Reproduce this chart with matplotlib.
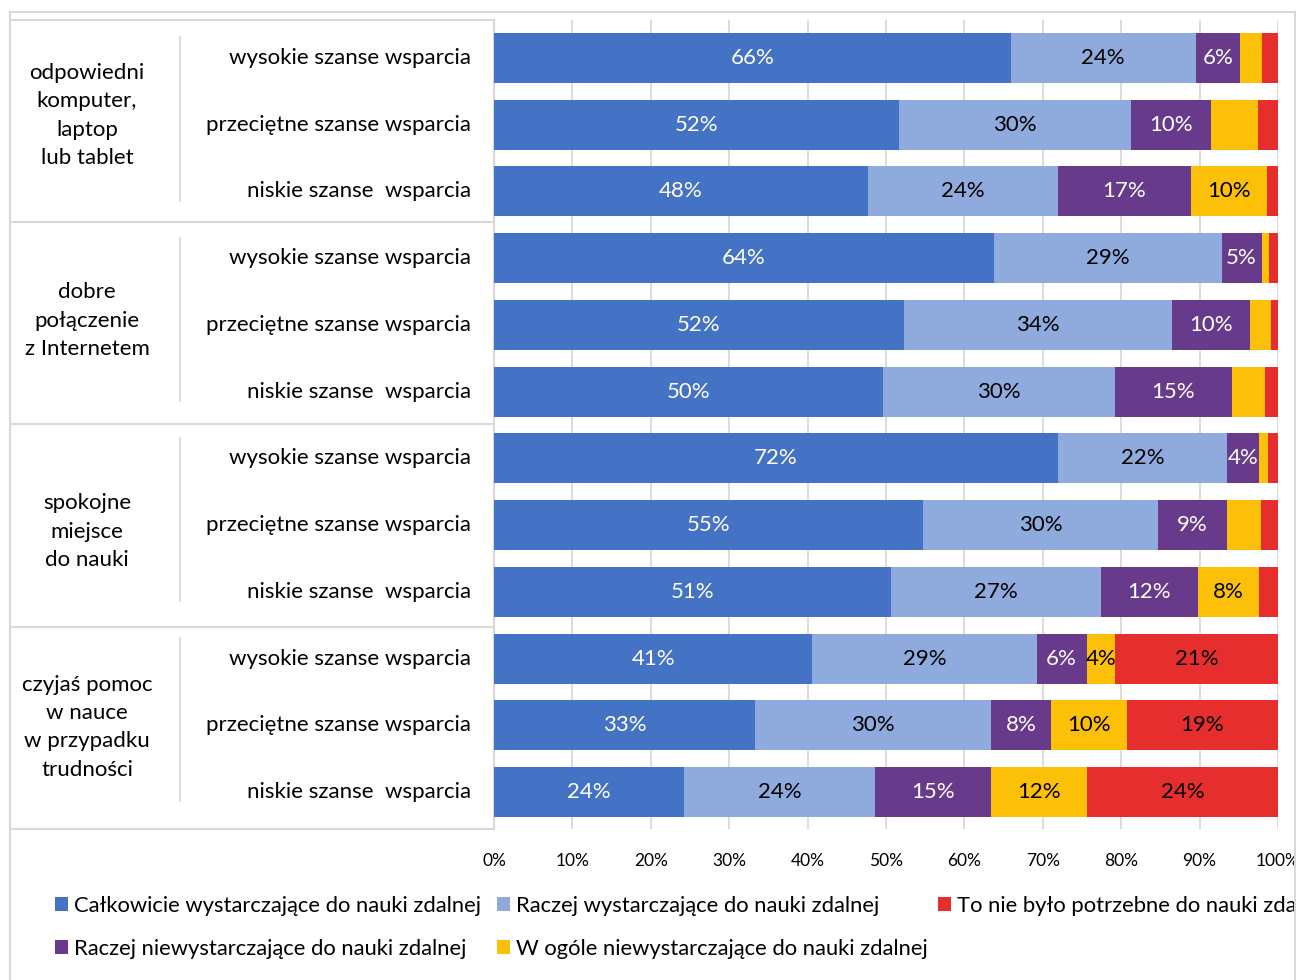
import matplotlib
matplotlib.use("Agg")
import matplotlib.pyplot as plt
from matplotlib.patches import Rectangle
from matplotlib.transforms import Bbox, TransformedBbox, blended_transform_factory
import numpy as np

plt.rcParams['font.family'] = ['Lato', 'DejaVu Sans']

# ---------------- data ----------------
groups = ["odpowiedni\nkomputer,\nlaptop\nlub tablet",
          "dobre\npołączenie\nz Internetem",
          "spokojne\nmiejsce\ndo nauki",
          "czyjaś pomoc\nw nauce\nw przypadku\ntrudności"]
levels = ["wysokie szanse wsparcia", "przeciętne szanse wsparcia", "niskie szanse  wsparcia"]
categories = [lv for g in groups for lv in levels]

series_names = ["Całkowicie wystarczające do nauki zdalnej",
                "Raczej wystarczające do nauki zdalnej",
                "Raczej niewystarczające do nauki zdalnej",
                "W ogóle niewystarczające do nauki zdalnej",
                "To nie było potrzebne do nauki zdalnej"]

calkowicie = [65.9, 51.6, 47.7, 63.8, 52.3, 49.6, 71.9, 54.7, 50.6, 40.6, 33.3, 24.2]
raczej_wyst = [23.6, 29.6, 24.2, 29.0, 34.2, 29.6, 21.6, 30.0, 26.8, 28.6, 30.1, 24.4]
raczej_niew = [5.7, 10.2, 17.0, 5.1, 9.9, 14.9, 4.1, 8.8, 12.4, 6.4, 7.6, 14.8]
w_ogole = [2.8, 6.0, 9.7, 0.9, 2.7, 4.3, 1.1, 4.3, 7.8, 3.6, 9.7, 12.2]
nie_potrzebne = [2.0, 2.6, 1.4, 1.2, 0.9, 1.6, 1.3, 2.2, 2.4, 20.8, 19.3, 24.4]

# which segments carry a data label in the original
show_calk = [1] * 12
show_rw = [1] * 12
show_rn = [1] * 12
show_wo = [0, 0, 1, 0, 0, 0, 0, 0, 1, 1, 1, 1]
show_np = [0, 0, 0, 0, 0, 0, 0, 0, 0, 1, 1, 1]

xticks = [0, 10, 20, 30, 40, 50, 60, 70, 80, 90, 100]
xticklabels = [f"{t}%" for t in xticks]

colors = ["#4472C4", "#8FAADC", "#673A8C", "#FDC008", "#E62E2F"]
label_colors = ["white", "black", "white", "black", "black"]

# ---------------- figure ----------------
W, H = 1298, 980
fig = plt.figure(figsize=(W / 100, H / 100), dpi=100)
ax = fig.add_axes([494 / W, 1 - 829 / H, 784 / W, 809 / H])

y = np.arange(len(categories))
series = [calkowicie, raczej_wyst, raczej_niew, w_ogole, nie_potrzebne]
shows = [show_calk, show_rw, show_rn, show_wo, show_np]
left = np.zeros(len(categories))
containers = []
for vals, col, lc, sh, name in zip(series, colors, label_colors, shows, series_names):
    vals = np.array(vals)
    bc = ax.barh(y, vals, left=left, height=0.75, color=col, label=name, zorder=3)
    containers.append(bc)
    labs = [f"{round(v):d}%" if s else "" for v, s in zip(vals, sh)]
    ax.bar_label(bc, labels=labs, label_type="center", color=lc, fontsize=16)
    left = left + vals

ax.set_xlim(0, 100)
ax.set_ylim(11.555, -0.57)
ax.set_xticks(xticks)
ax.set_xticklabels(xticklabels, fontsize=12.5)
ax.tick_params(axis="x", length=0, pad=17)
ax.set_yticks([])
for s in ax.spines.values():
    s.set_visible(False)
ax.grid(axis="x", color="#D9D9D9", linewidth=1.3, zorder=0)
ax.set_axisbelow(True)

# ---------------- table on the left ----------------
gray = "#D9D9D9"
trans = blended_transform_factory(ax.transAxes, ax.transData)
x_left = (10 - 494) / 784
x_sep = (180 - 494) / 784
x_grp = (87 - 494) / 784
x_cat = (471 - 494) / 784
ax.add_patch(Rectangle((x_left, 0), -x_left, 1, transform=ax.transAxes, fill=False,
                       edgecolor=gray, linewidth=1.5, clip_on=False, zorder=1))
for yb in [2.46, 5.49, 8.53]:
    ax.plot([x_left, 0], [yb, yb], transform=trans, color=gray, lw=1.5, clip_on=False)
for g in range(4):
    ax.plot([x_sep, x_sep], [3 * g - 0.31, 3 * g + 2.14], transform=trans,
            color=gray, lw=1.3, clip_on=False)
grp_y = [0.86, 3.94, 7.1, 10.03]
for g, lab in enumerate(groups):
    ax.text(x_grp, grp_y[g], lab, transform=trans, ha="center", va="center",
            multialignment="center", fontsize=16, linespacing=1.53)
for i, c in enumerate(categories):
    ax.text(x_cat, i, c, transform=trans, ha="right", va="center", fontsize=16)

# ---------------- outer frame ----------------
fig.add_artist(Rectangle((10 / W, -0.05), 1285 / W, 1 - 12 / H + 0.05,
                         transform=fig.transFigure, fill=False, edgecolor=gray, lw=1.5))

clipbox = TransformedBbox(Bbox([[0, 0], [1294 / W, 1]]), fig.transFigure)
for t in ax.get_xticklabels():
    t.set_clip_box(clipbox)
    t.set_clip_on(True)

# ---------------- legend (three columns) ----------------
cols = [([0, 2], 55), ([1, 3], 497), ([4], 938)]
for idx, xpx in cols:
    leg = fig.legend([containers[k] for k in idx], [series_names[k] for k in idx],
                     loc="upper left", bbox_to_anchor=(xpx / W, 1 - 896 / H),
                     frameon=False, fontsize=15.8, borderpad=0, borderaxespad=0,
                     handlelength=0.58, handleheight=0.58, handletextpad=0.3,
                     labelspacing=1.05)
    for t in leg.get_texts():
        t.set_clip_box(clipbox)
        t.set_clip_on(True)

fig.savefig("out.png", dpi=100)
